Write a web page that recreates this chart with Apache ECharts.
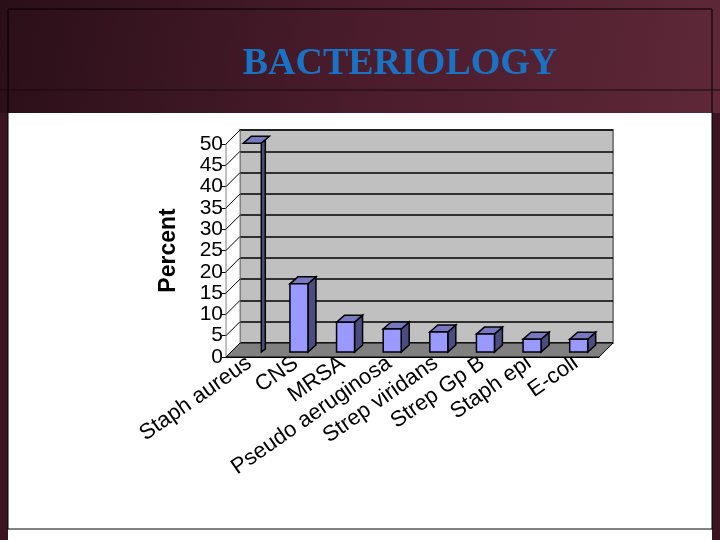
<!DOCTYPE html>
<html>
  <head>
    <meta charset="utf-8" />
    <title>Bacteriology</title>
    <style type="text/css">
      html,
      body {
        margin: 0;
        width: 720px;
        height: 540px;
        overflow: hidden;
      }
    </style>
    <script src="https://cdn.jsdelivr.net/npm/echarts@6/dist/echarts.min.js"></script>
  </head>
  <body>
    <div id="chart" style="width: 720px; height: 540px"></div>
    <script type="text/javascript">
      var categories = [
        "Staph aureus",
        "CNS",
        "MRSA",
        "Pseudo aeruginosa",
        "Strep viridans",
        "Strep Gp B",
        "Staph epi",
        "E-coli",
      ];
      var percents = [49, 16, 7, 5.4, 4.7, 4.2, 3, 3];
      var yTicks = [0, 5, 10, 15, 20, 25, 30, 35, 40, 45, 50];

      var chart = echarts.init(document.getElementById("chart"));
      var DX = 14,
        DY = 14; // depth of the 3d box

      // bars: front face sits in front of the back wall
      function renderBar(params, api) {
        var i = api.value(0);
        var v = api.value(1);
        var base = api.coord([i, 0]);
        var top = api.coord([i, v]);
        var w = 18, dw = 8;
        var x0 = base[0] - 20,
          x1 = x0 + w,
          yb = base[1] + 9,
          yt = top[1] + 9;
        var st = { stroke: "#000", lineWidth: 1.5 };
        var cap = {
          type: "polygon",
          shape: { points: [[x0, yt], [x1, yt], [x1 + dw, yt - 7], [x0 + dw, yt - 7]] },
          style: Object.assign({ fill: "#7878c0" }, st),
        };
        if (i === 0) {
          // first bar is rendered as a thin sliver in the original
          return {
            type: "group",
            children: [
              cap,
              {
                type: "polygon",
                shape: { points: [[x1, yt], [x1 + 4, yt - 3], [x1 + 4, yb - 3], [x1, yb]] },
                style: Object.assign({ fill: "#4c4c80" }, st),
              },
            ],
          };
        }
        return {
          type: "group",
          children: [
            {
              type: "polygon",
              shape: { points: [[x1, yb], [x1, yt], [x1 + dw, yt - 7], [x1 + dw, yb - 7]] },
              style: Object.assign({ fill: "#4c4c80" }, st),
            },
            cap,
            {
              type: "rect",
              shape: { x: x0, y: yt, width: w, height: yb - yt },
              style: Object.assign({ fill: "#9999ff" }, st),
            },
          ],
        };
      }

      var option = {
        backgroundColor: "#fff",
        animation: false,
        title: {
          text: "BACTERIOLOGY",
          left: 395,
          top: 40,
          textAlign: "center",
          textStyle: {
            fontFamily: "Liberation Serif",
            fontWeight: "bold",
            fontSize: 38,
            color: "#1a72c4",
          },
        },
        grid: [
          { left: 240, right: 107, top: 130, bottom: 197, show: true, backgroundColor: "#c0c0c0", borderColor: "#808080", borderWidth: 2 },
          { left: 226, right: 121, top: 144, bottom: 183 },
        ],
        xAxis: [
          { gridIndex: 0, type: "category", data: categories, show: false },
          {
            gridIndex: 1,
            type: "category",
            data: categories,
            axisLine: { lineStyle: { color: "#000" } },
            axisTick: { lineStyle: { color: "#000" }, length: 6 },
            axisLabel: {
              rotate: 35,
              color: "#000",
              fontFamily: "Liberation Sans",
              fontSize: 22,
              interval: 0,
              margin: 4,
            },
          },
        ],
        yAxis: [
          {
            gridIndex: 0,
            min: 0,
            max: 50,
            interval: 5,
            axisLine: { show: false },
            axisTick: { show: false },
            axisLabel: { show: false },
            splitLine: { lineStyle: { color: "#000", width: 1.5 } },
          },
          {
            gridIndex: 1,
            min: 0,
            max: 50,
            interval: 5,
            name: "Percent",
            nameLocation: "middle",
            nameGap: 46,
            nameTextStyle: { fontFamily: "Liberation Sans", fontWeight: "bold", fontSize: 23, color: "#000" },
            axisLine: { show: true, lineStyle: { color: "#000" } },
            axisTick: { show: true, length: 4, lineStyle: { color: "#000" } },
            axisLabel: {
              color: "#000",
              fontFamily: "Liberation Sans",
              fontSize: 21,
              margin: 3,
              formatter: function (v) {
                return yTicks.indexOf(v) >= 0 ? String(v) : "";
              },
            },
            splitLine: { show: false },
          },
        ],
        series: [
          {
            type: "custom",
            xAxisIndex: 0,
            yAxisIndex: 0,
            renderItem: renderBar,
            data: percents.map(function (v, i) {
              return [i, v];
            }),
            z: 10,
          },
        ],
      };
      chart.setOption(option);

      // slide frame, floor and side wall
      var graphics = [];
      var L = 240, R = 613, T = 130, B = 343;
      graphics.push({
        type: "rect",
        z: -10,
        shape: { x: 0, y: 0, width: 720, height: 113 },
        style: {
          fill: new echarts.graphic.LinearGradient(0, 0, 1, 1, [
            { offset: 0, color: "#2a0f18" },
            { offset: 0.5, color: "#4a1c2c" },
            { offset: 1, color: "#5e2838" },
          ]),
        },
      });
      graphics.push({ type: "rect", z: -10, shape: { x: 0, y: 113, width: 8, height: 427 }, style: { fill: "#3a1420" } });
      graphics.push({ type: "rect", z: -10, shape: { x: 712, y: 113, width: 8, height: 427 }, style: { fill: "#3a1420" } });
      graphics.push({ type: "rect", z: -9, shape: { x: 8, y: 9, width: 704, height: 520 }, style: { fill: null, stroke: "#000", lineWidth: 1 } });
      graphics.push({ type: "line", z: -9, shape: { x1: 0, y1: 90, x2: 720, y2: 90 }, style: { stroke: "#1a0810", lineWidth: 1 } });
      graphics.push({
        type: "polygon",
        z: 5,
        shape: { points: [[L, B], [R, B], [R - DX, B + DY], [L - DX, B + DY]] },
        style: { fill: "#808080", stroke: "#000", lineWidth: 1 },
      });
      graphics.push({
        type: "polygon",
        z: 5,
        shape: { points: [[L, T], [L, B], [L - DX, B + DY], [L - DX, T + DY]] },
        style: { fill: "#fff", stroke: "#808080", lineWidth: 1 },
      });
      yTicks.forEach(function (t) {
        var p = chart.convertToPixel({ gridIndex: 0 }, [0, t]);
        graphics.push({
          type: "line",
          z: 6,
          shape: { x1: L, y1: p[1], x2: L - DX, y2: p[1] + DY },
          style: { stroke: "#000", lineWidth: 1 },
        });
      });
      chart.setOption({ graphic: graphics });
    </script>
  </body>
</html>
